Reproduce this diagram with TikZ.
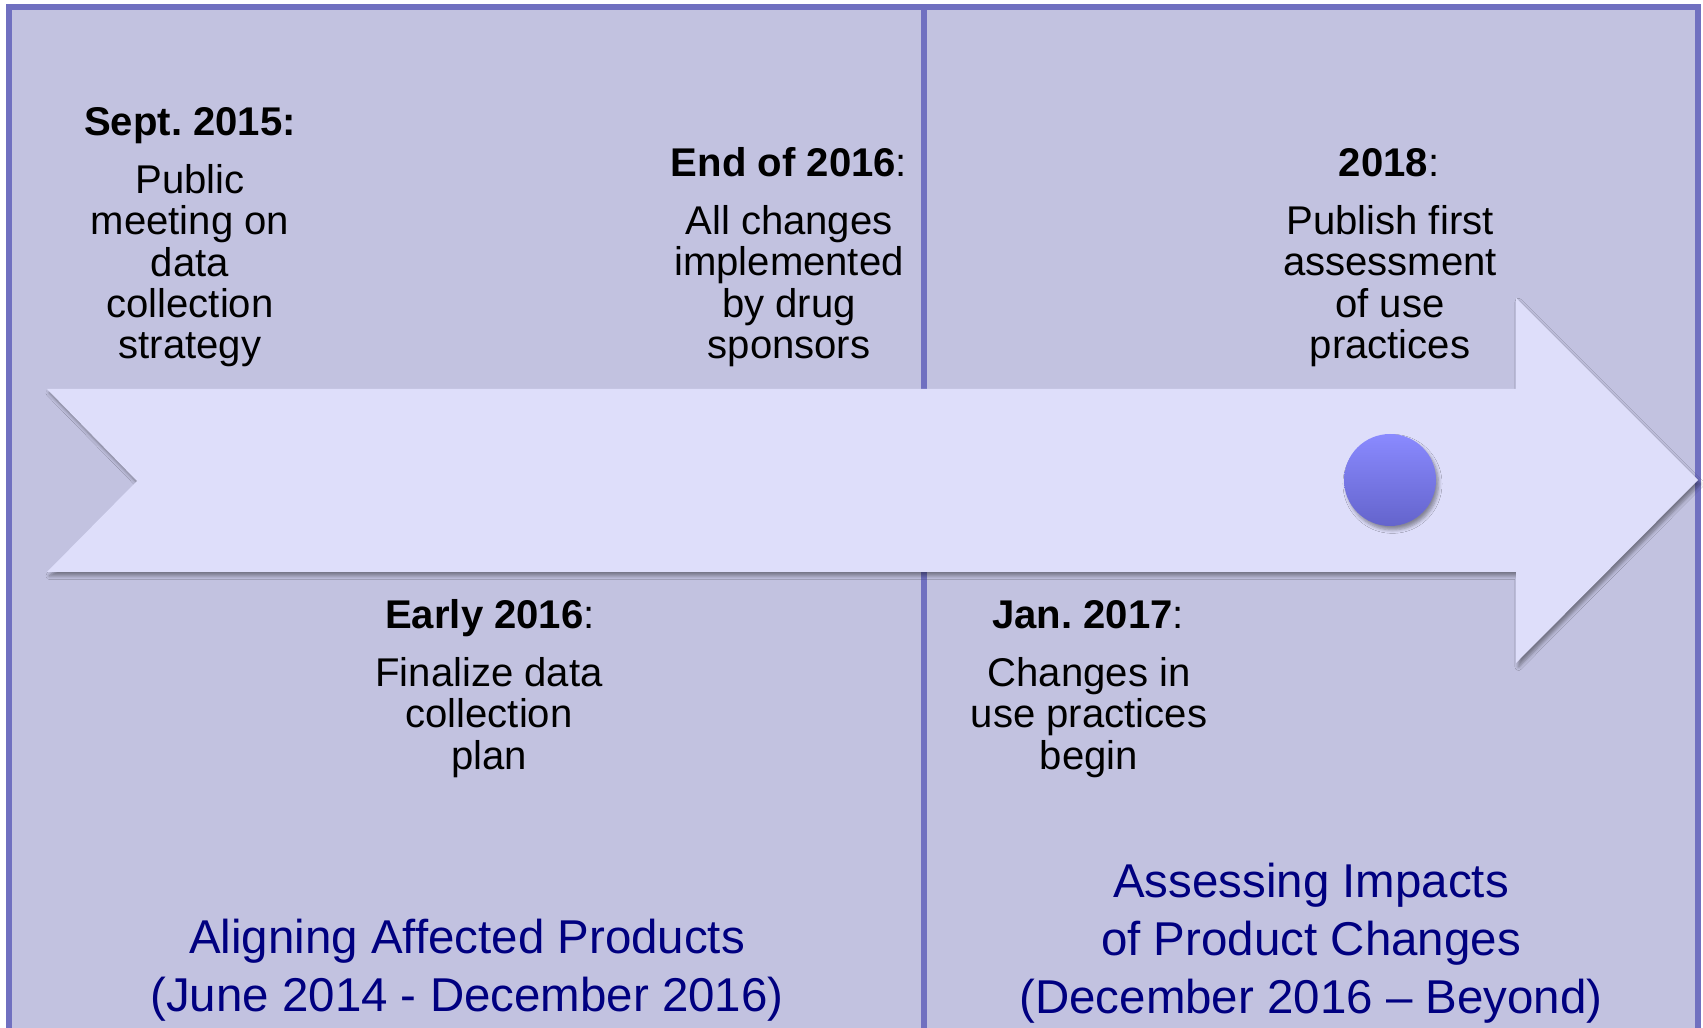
\documentclass[tikz,border=0pt]{standalone}
\usepackage{fontspec}
\setmainfont{Liberation Sans}
\frenchspacing
\usetikzlibrary{shadows.blur}

\definecolor{panelbg}{RGB}{194,194,224}
\definecolor{panelline}{RGB}{112,112,192}
\definecolor{arrowbg}{RGB}{222,222,250}
\definecolor{dottop}{RGB}{138,138,255}
\definecolor{dotbot}{RGB}{100,100,204}
\definecolor{phasetxt}{RGB}{0,0,128}

\tikzset{
  frame/.style={draw=panelline, line width=1.45pt},
  when/.style={inner sep=0pt, anchor=base, font=\fontsize{11.4}{11.7}\selectfont},
  what/.style={inner sep=0pt, anchor=north, align=center, font=\fontsize{11.4}{11.7}\selectfont},
  phase/.style={inner sep=0pt, anchor=north, align=center, text=phasetxt, font=\fontsize{13.5}{16.6}\selectfont},
  soft/.style={blur shadow={shadow xshift=0.7pt, shadow yshift=-1.1pt, shadow blur radius=1pt, shadow blur steps=5, shadow opacity=40}}
}

\begin{document}
\begin{tikzpicture}[x=0.01cm, y=-0.01cm]
    \useasboundingbox (0, 0) rectangle (1703, 1028);
    \fill[white] (0, 0) rectangle (1703, 1028);

    \fill[panelbg] (9, 7) rectangle (1698, 1028);
    \draw[frame] (9, 1028) -- (9, 7) -- (1698, 7) -- (1698, 1028);
    \draw[frame] (924, 7) -- (924, 1028);

    \fill[arrowbg, soft] (47, 389) -- (1516, 389) -- (1516, 298) -- (1698, 480)
      -- (1516, 663) -- (1516, 572) -- (47, 572) -- (137, 481) -- cycle;

    \shade[top color=dottop, bottom color=dotbot, soft] (1390, 480) circle (46);

    \node[when] (sept) at (190, 136) {\textbf{Sept. 2015:}};
    \node[what] (septtxt) at (190, 164) {Public\\meeting on\\data\\collection\\strategy};

    \node[when] (endsix) at (789, 177) {\textbf{End of 2016}:};
    \node[what] (endsixtxt) at (789, 205) {All changes\\implemented\\by drug\\sponsors};

    \node[when] (eight) at (1389, 177) {\textbf{2018}:};
    \node[what] (eighttxt) at (1390, 205) {Publish first\\assessment\\of use\\practices};

    \node[when] (early) at (490, 629) {\textbf{Early 2016}:};
    \node[what] (earlytxt) at (489, 657) {Finalize data\\collection\\plan};

    \node[when] (jan) at (1088, 629) {\textbf{Jan. 2017}:};
    \node[what] (jantxt) at (1089, 657) {Changes in\\use practices\\begin};

    \node[phase] (align) at (467, 918) {Aligning Affected Products\\(June 2014 - December 2016)};
    \node[phase] (assess) at (1311, 862) {Assessing Impacts\\of Product Changes\\(December 2016 -- Beyond)};
\end{tikzpicture}
\end{document}
